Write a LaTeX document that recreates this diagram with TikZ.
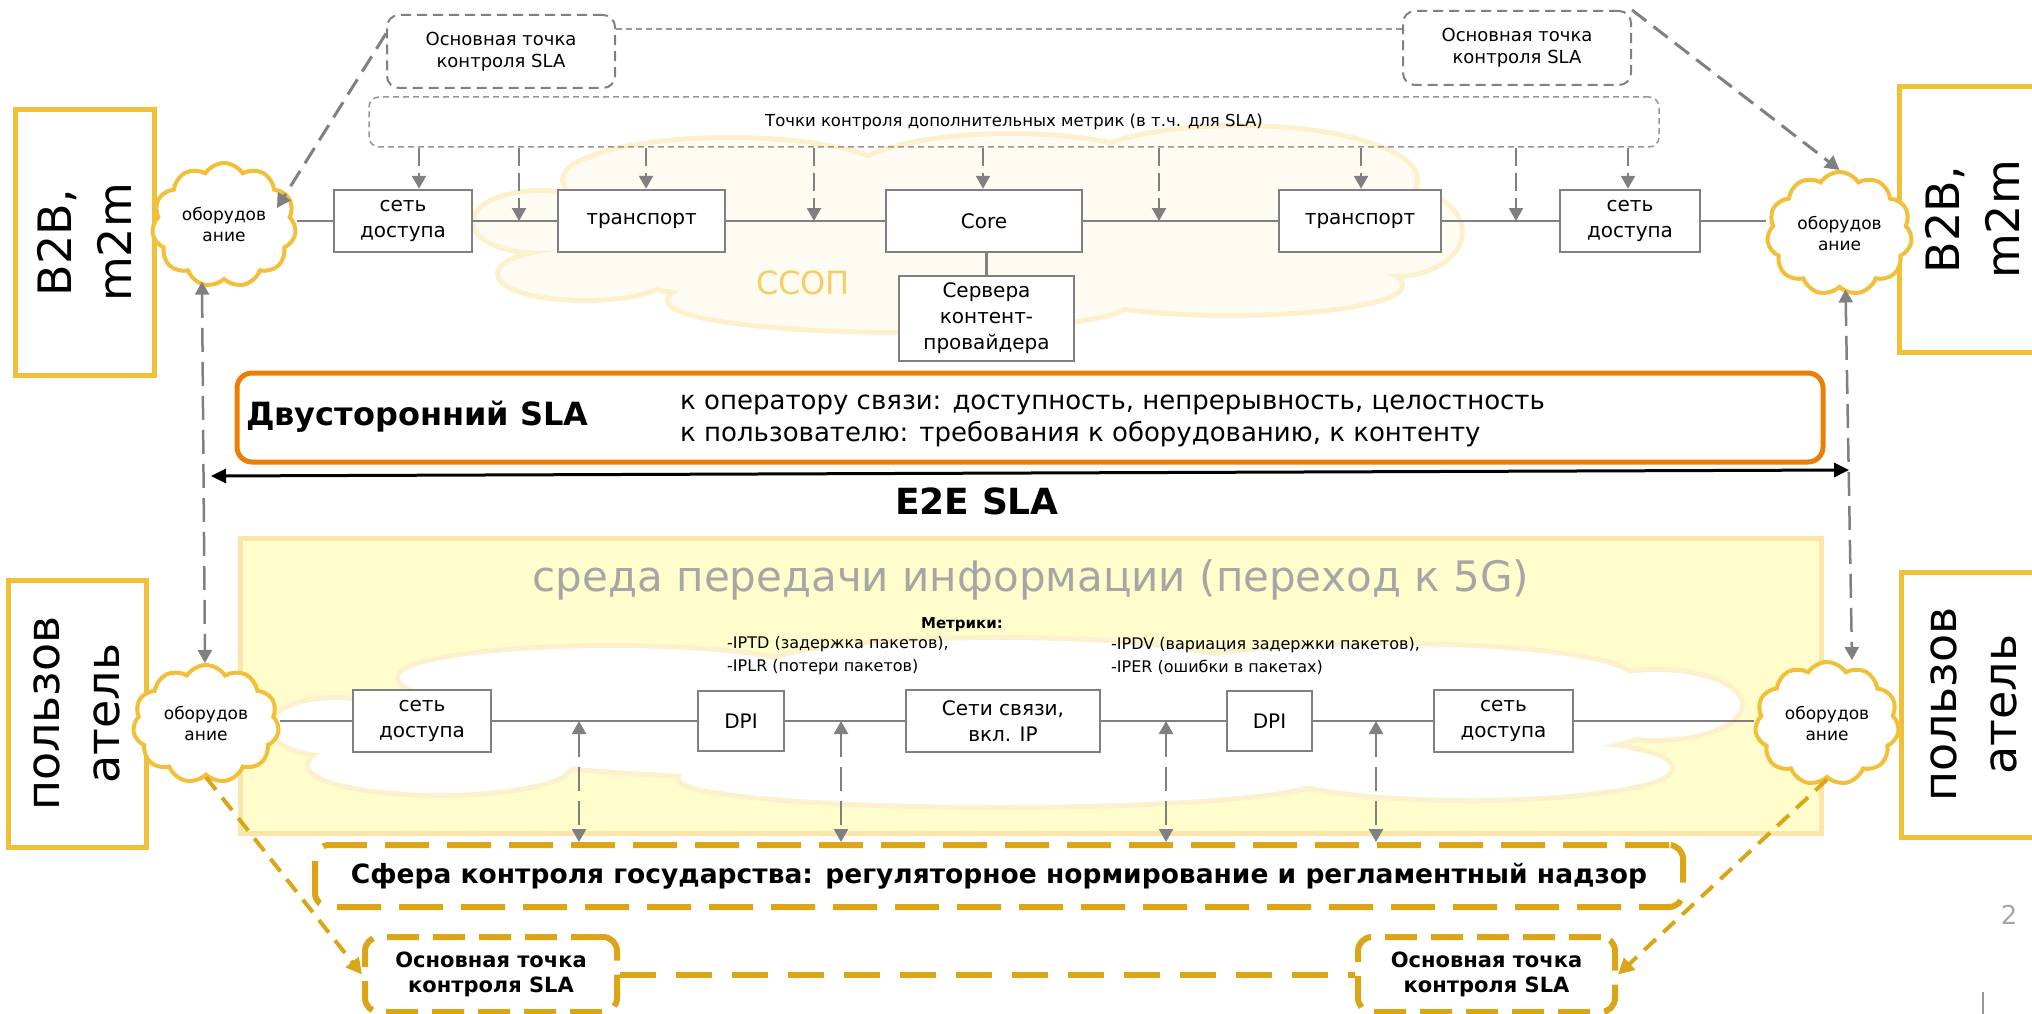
\documentclass[tikz,border=0pt]{standalone}
\usepackage{fontspec}
\setmainfont{DejaVu Sans}
\usepackage{xfp}
\usetikzlibrary{arrows.meta, shapes.symbols}

\definecolor{sunYellow}{RGB}{242,192,56}
\definecolor{slaOrange}{RGB}{237,125,4}
\definecolor{stateGold}{RGB}{218,165,22}
\definecolor{lineGray}{RGB}{128,128,128}
\definecolor{hintGray}{RGB}{150,150,150}
\definecolor{titleGray}{RGB}{166,166,166}
\definecolor{mediumFill}{RGB}{255,253,204}
\definecolor{mediumEdge}{RGB}{250,229,170}
\definecolor{hazeEdge}{RGB}{253,240,204}
\definecolor{hazeFill}{RGB}{253,251,242}
\definecolor{ssopText}{RGB}{246,206,100}

\newcommand*{\sz}[2]{\fontsize{#1}{#2}\selectfont}
\newcommand*{\boxAt}[7]{% style, name, xleft, ytop, xright, ybottom, text
    \node[#1, minimum width=\fpeval{#5-#3}pt, minimum height=\fpeval{#6-#4}pt] (#2) at (\fpeval{(#3+#5)/2}, \fpeval{(#4+#6)/2}) {#7};
}
\newcommand*{\upBox}[6]{% name, xleft, ytop, xright, ybottom, text (turned up)
    \node[ownerbox, minimum width=\fpeval{#5-#3}pt, minimum height=\fpeval{#4-#2}pt] (#1) at (\fpeval{(#2+#4)/2}, \fpeval{(#3+#5)/2}) {#6};
}
\newcommand*{\hazeCloud}[2]{% fill colour, lobes cx/cy/rx/ry
    \foreach \cx/\cy/\rx/\ry in {#2}
        \draw[hazeEdge, line width=10pt] (\cx,\cy) ellipse [x radius=\rx, y radius=\ry];
    \foreach \cx/\cy/\rx/\ry in {#2}
        \fill[#1] (\cx,\cy) ellipse [x radius=\rx, y radius=\ry];
}

\tikzset{
    medium/.style={draw=mediumEdge, line width=5pt, fill=mediumFill},
    mediumTitle/.style={text=titleGray, font=\sz{42}{50}, inner sep=0pt},
    ssopLabel/.style={text=ssopText, font=\sz{32}{38}, inner sep=0pt},
    ownerbox/.style={draw=sunYellow, line width=5pt, fill=white, rotate=90, align=center, font=\sz{46}{60}},
    gear/.style={cloud, cloud puffs=11, cloud puff arc=115, draw=sunYellow, line width=4pt, fill=white, align=center, inner sep=0pt, font=\sz{17}{21}},
    netbox/.style={draw=lineGray, line width=2.5pt, fill=white, align=center, inner sep=2pt, font=\sz{20}{26}},
    ctlbox/.style={draw=lineGray, line width=2pt, dash pattern=on 10pt off 6pt, rounded corners=12pt, fill=white, align=center, font=\sz{18}{22}},
    hintbox/.style={draw=hintGray, line width=1.5pt, dash pattern=on 6pt off 4pt, rounded corners=10pt, align=center, font=\sz{16.5}{20}},
    slabox/.style={draw=slaOrange, line width=5pt, rounded corners=15pt, fill=white},
    slaHead/.style={font=\bfseries\sz{32}{38}, inner sep=0pt},
    slaText/.style={align=left, font=\sz{26}{32}, inner sep=0pt},
    e2e/.style={draw=black, line width=3pt, {Triangle[length=15pt,width=14pt]}-{Triangle[length=15pt,width=14pt]}},
    e2eLabel/.style={font=\bfseries\sz{36}{42}, inner sep=0pt},
    metricHead/.style={font=\bfseries\sz{15}{18}, inner sep=0pt},
    metricText/.style={align=left, font=\sz{16}{23}, inner sep=0pt},
    statebox/.style={draw=stateGold, line width=6pt, dash pattern=on 44pt off 18pt, rounded corners=14pt, fill=white, font=\bfseries\sz{26.5}{30}},
    goldbox/.style={draw=stateGold, line width=6pt, dash pattern=on 32pt off 14pt, rounded corners=14pt, fill=white, align=center, font=\bfseries\sz{21}{25}},
    link/.style={draw=lineGray, line width=2.5pt},
    hintLine/.style={draw=hintGray, line width=1.5pt, dash pattern=on 6pt off 4pt},
    probe/.style={draw=lineGray, line width=2.5pt, dash pattern=on 18pt off 7pt, -{Triangle[length=13pt,width=14pt]}},
    duplex/.style={draw=lineGray, line width=2.5pt, dash pattern=on 24pt off 10pt, {Triangle[length=13pt,width=14pt]}-{Triangle[length=13pt,width=14pt]}},
    mainLink/.style={draw=lineGray, line width=3pt, dash pattern=on 18pt off 9pt, -{Triangle[length=14pt,width=15pt]}},
    goldLink/.style={draw=stateGold, line width=6pt, dash pattern=on 36pt off 20pt},
    goldArrow/.style={draw=stateGold, line width=4pt, dash pattern=on 16pt off 10pt, -{Triangle[length=16pt,width=16pt]}},
    pageNo/.style={text=titleGray, font=\sz{26}{30}, inner sep=0pt},
}

\begin{document}
\begin{tikzpicture}[x=1pt, y=-1pt]
\useasboundingbox (0,0) rectangle (2032,1014);

% background: ССОП cloud and transmission medium
\hazeCloud{hazeFill}{540/222/65/29, 585/274/85/24, 730/180/165/40, 1010/178/160/42, 1240/180/175/52, 1395/232/65/42, 1230/285/170/28, 900/300/230/30, 967/240/420/70}
\node[ssopLabel] (ssopLabel) at (803,283) {ССОП};
\boxAt{medium}{medium}{240}{538}{1821}{833}{}
\node[mediumTitle] (mediumTitle) at (1031,580) {среда передачи информации (переход к 5G)};
\hazeCloud{white}{335/727/63/27, 440/765/130/28, 610/678/210/30, 1000/670/240/30, 1390/678/240/32, 1655/705/85/33, 1470/768/200/30, 1000/778/320/27, 1006/722/650/60}

% owners
\upBox{b2bL}{15}{110}{154}{375}{B2B,\\m2m}
\upBox{b2bR}{1899}{87}{2045}{352}{B2B,\\m2m}
\upBox{userL}{8}{580}{146}{847}{пользов\\атель}
\upBox{userR}{1901}{572}{2047}{837}{пользов\\атель}

% equipment
\boxAt{gear, aspect=1.16}{cloudTL}{152}{163}{296}{287}{оборудов\\ание}
\boxAt{gear, aspect=1.18}{cloudTR}{1767}{172}{1912}{295}{оборудов\\ание}
\boxAt{gear, aspect=1.24}{cloudBL}{133}{665}{279}{783}{оборудов\\ание}
\boxAt{gear, aspect=1.17}{cloudBR}{1755}{662}{1899}{785}{оборудов\\ание}

% upper chain
\boxAt{netbox}{accTL}{334}{190}{472}{252}{сеть\\доступа}
\boxAt{netbox}{trTL}{558}{190}{725}{252}{транспорт}
\boxAt{netbox}{core}{886}{190}{1082}{252}{Core}
\boxAt{netbox}{trTR}{1279}{190}{1441}{252}{транспорт}
\boxAt{netbox}{accTR}{1560}{190}{1700}{252}{сеть\\доступа}
\boxAt{netbox}{srv}{899}{276}{1074}{361}{Сервера\\контент-\\провайдера}

% control points
\boxAt{ctlbox}{mainTL}{387}{15}{615}{88}{Основная точка\\контроля SLA}
\boxAt{ctlbox}{mainTR}{1403}{11}{1631}{85}{Основная точка\\контроля SLA}
\boxAt{hintbox}{metricsTop}{369}{97}{1659}{147}{Точки контроля дополнительных метрик (в т.ч. для SLA)}

% SLA
\boxAt{slabox}{sla}{237}{373}{1823}{462}{}
\node[slaHead, anchor=west] (slaHead) at (246,417) {Двусторонний SLA};
\node[slaText, anchor=west] (slaText) at (680,421) {к оператору связи: доступность, непрерывность, целостность\\к пользователю: требования к оборудованию, к контенту};
\coordinate (e2eL) at (211,476);
\coordinate (e2eR) at (1849,470);
\node[e2eLabel] (e2eLabel) at (977,501) {E2E SLA};

% lower chain
\boxAt{netbox}{accBL}{353}{690}{491}{752}{сеть\\доступа}
\boxAt{netbox}{dpiL}{698}{691}{784}{751}{DPI}
\boxAt{netbox}{netC}{906}{690}{1100}{752}{Сети связи,\\вкл. IP}
\boxAt{netbox}{dpiR}{1227}{691}{1312}{751}{DPI}
\boxAt{netbox}{accBR}{1434}{690}{1573}{752}{сеть\\доступа}
\node[metricHead] (metricsHead) at (962,625) {Метрики:};
\node[metricText, anchor=west] (metricsA) at (727,656) {-IPTD (задержка пакетов),\\-IPLR (потери пакетов)};
\node[metricText, anchor=west] (metricsB) at (1111,656) {-IPDV (вариация задержки пакетов),\\-IPER (ошибки в пакетах)};

% state
\boxAt{statebox}{state}{315}{845}{1683}{907}{Сфера контроля государства: регуляторное нормирование и регламентный надзор}
\boxAt{goldbox}{mainBL}{365}{937}{617}{1012}{Основная точка\\контроля SLA}
\boxAt{goldbox}{mainBR}{1358}{937}{1615}{1012}{Основная точка\\контроля SLA}

% connectors
\draw[link] (accTL.west) -- (accTL.west -| cloudTL.east);
\draw[link] (accTL) -- (trTL) -- (core) -- (trTR) -- (accTR);
\draw[link] (accTR.east) -- (accTR.east -| cloudTR.west);
\draw[link] (srv.north) -- (srv.north |- core.south);
\foreach \px/\target in {419/accTL, 646/trTL, 983/core, 1361/trTR, 1628/accTR}
    \draw[probe] (\px,0 |- metricsTop.south) -- (\px,0 |- \target.north);
\foreach \px in {519, 814, 1159, 1516}
    \draw[probe] (\px,0 |- metricsTop.south) -- (\px,0 |- core);
\draw[hintLine] ([yshift=22.5pt]mainTL.east) -- ([yshift=19pt]mainTR.west);
\coordinate (slaTipL) at (277,208);
\draw[mainLink] ([yshift=18pt]mainTL.west) -- (slaTipL);
\draw[mainLink] (mainTR.north east) -- (cloudTR.north);
\draw[duplex] ([xshift=-22pt]cloudTL.south) -- ([xshift=-1pt]cloudBL.north);
\draw[duplex] ([xshift=6pt]cloudTR.south) -- ([xshift=25pt]cloudBR.north);
\draw[e2e] (e2eL) -- (e2eR);

\draw[link] (accBL.west) -- (accBL.west -| cloudBL.east);
\draw[link] (accBL) -- (dpiL) -- (netC) -- (dpiR) -- (accBR);
\draw[link] (accBR.east) -- (accBR.east -| cloudBR.west);
\foreach \px in {579, 841, 1166, 1376}
    \draw[duplex] (\px,0 |- netC) -- (\px,0 |- state.north);
\draw[goldLink] (mainBL) -- (mainBR);
\draw[goldArrow] (cloudBL.south) -- (mainBL.west);
\draw[goldArrow] (cloudBR.south) -- (mainBR.east);

% page mark
\node[pageNo] (pageNo) at (2009,915) {2};
\draw[hintGray, line width=2pt] (1983,992) -- (1983,1014);
\end{tikzpicture}
\end{document}
